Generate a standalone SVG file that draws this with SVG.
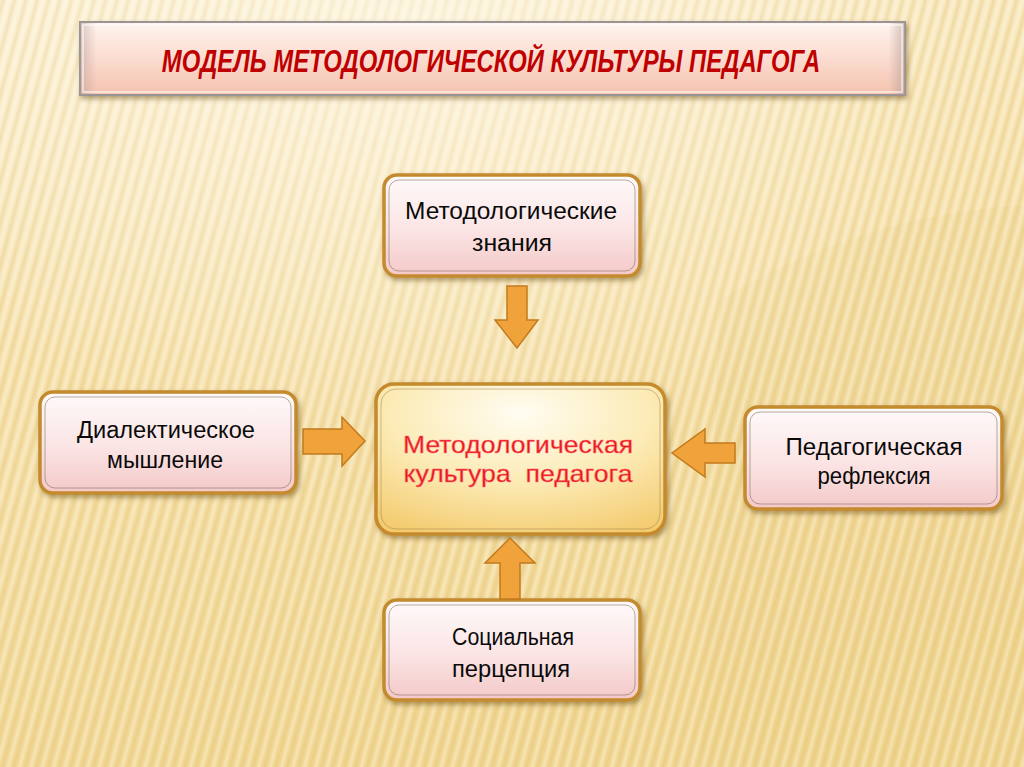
<svg xmlns="http://www.w3.org/2000/svg" width="1024" height="767" viewBox="0 0 1024 767">
  <defs>
    <linearGradient id="bg" x1="0" y1="0" x2="0.25" y2="1">
      <stop offset="0" stop-color="#fbf0d2"/>
      <stop offset="0.45" stop-color="#f7e4b2"/>
      <stop offset="1" stop-color="#f2d998"/>
    </linearGradient>
    <radialGradient id="glow" cx="0.4" cy="0.05" r="0.55">
      <stop offset="0" stop-color="#fffbf0" stop-opacity="0.6"/>
      <stop offset="1" stop-color="#fffbf0" stop-opacity="0"/>
    </radialGradient>
    <linearGradient id="stripeGrad" x1="0" y1="0" x2="1" y2="0">
      <stop offset="0" stop-color="#d9b35e" stop-opacity="0"/>
      <stop offset="0.5" stop-color="#d9b35e" stop-opacity="0.32"/>
      <stop offset="1" stop-color="#d9b35e" stop-opacity="0"/>
    </linearGradient>
    <pattern id="stripes" width="11" height="1200" patternUnits="userSpaceOnUse" patternTransform="rotate(15)">
      <rect x="0" y="0" width="6" height="1200" fill="url(#stripeGrad)"/>
      <rect x="7" y="0" width="3" height="1200" fill="#fffaf0" opacity="0.25"/>
    </pattern>
    <linearGradient id="title" x1="0" y1="0" x2="0" y2="1">
      <stop offset="0" stop-color="#fff4ef"/>
      <stop offset="0.5" stop-color="#fbdcd0"/>
      <stop offset="1" stop-color="#f5c2ae"/>
    </linearGradient>
    <linearGradient id="titleEdge" x1="0" y1="0" x2="1" y2="0">
      <stop offset="0" stop-color="#b09a94" stop-opacity="0.5"/>
      <stop offset="0.02" stop-color="#b09a94" stop-opacity="0"/>
      <stop offset="0.98" stop-color="#b09a94" stop-opacity="0"/>
      <stop offset="1" stop-color="#b09a94" stop-opacity="0.6"/>
    </linearGradient>
    <linearGradient id="pink" x1="0" y1="0" x2="0" y2="1">
      <stop offset="0" stop-color="#fffafa"/>
      <stop offset="0.55" stop-color="#fbe4e4"/>
      <stop offset="1" stop-color="#f4c8c8"/>
    </linearGradient>
    <radialGradient id="center" cx="0.5" cy="0.2" r="0.9">
      <stop offset="0" stop-color="#fffdf2"/>
      <stop offset="0.5" stop-color="#fcebb6"/>
      <stop offset="1" stop-color="#f3c96a"/>
    </radialGradient>
    <filter id="shadow" x="-10%" y="-10%" width="125%" height="130%">
      <feDropShadow dx="2" dy="3" stdDeviation="2.5" flood-color="#5a3a10" flood-opacity="0.45"/>
    </filter>
  </defs>
  <style>
    .node { fill: url(#pink); stroke: #c48a2e; stroke-width: 3.5; filter: url(#shadow); }
    .inner { fill: none; stroke: #7a6a5a; stroke-width: 1; opacity: 0.55; }
    .lbl { font-family: "Liberation Sans", Arial, sans-serif; font-size: 23px; fill: #0a0a0a; text-anchor: middle; }
    .ctr { font-family: "Liberation Sans", Arial, sans-serif; font-size: 24px; fill: #e8141c; stroke: #ff7070; stroke-width: 0.5; text-anchor: middle; }
    .arrow { fill: #f0a33a; stroke: #c27a1e; stroke-width: 1.5; stroke-linejoin: miter; }
  </style>

  <rect x="0" y="0" width="1024" height="767" fill="url(#bg)"/>
  <path d="M 720 300 Q 860 215 1024 205 L 1024 767 L 700 767 Z" fill="#e9cf85" opacity="0.18"/>
  <rect x="0" y="0" width="1024" height="767" fill="url(#stripes)"/>
  <rect x="0" y="0" width="1024" height="767" fill="url(#glow)"/>

  <g id="title-box">
    <rect x="80" y="22" width="825" height="73" fill="url(#title)" stroke="#9a9494" stroke-width="2" filter="url(#shadow)"/>
    <rect x="80" y="22" width="825" height="73" fill="url(#titleEdge)"/>
    <rect x="83" y="25" width="819" height="67" fill="none" stroke="#ffffff" stroke-width="1.5" opacity="0.7"/>
    <text transform="translate(491,72) scale(0.78,1)" x="0" y="0" font-family="'Liberation Sans', Arial, sans-serif" font-size="31" font-weight="bold" font-style="italic" fill="#c00000" text-anchor="middle" textLength="844" lengthAdjust="spacingAndGlyphs">МОДЕЛЬ МЕТОДОЛОГИЧЕСКОЙ КУЛЬТУРЫ ПЕДАГОГА</text>
  </g>

  <g id="node-knowledge">
    <rect class="node" x="384" y="175" width="256" height="101" rx="13"/>
    <rect class="inner" x="389" y="180" width="246" height="91" rx="10"/>
    <text class="lbl" x="511" y="219" textLength="212" lengthAdjust="spacingAndGlyphs">Методологические</text>
    <text class="lbl" x="512" y="251" textLength="80" lengthAdjust="spacingAndGlyphs">знания</text>
  </g>

  <g id="node-dialectic">
    <rect class="node" x="40" y="392" width="256" height="101" rx="13"/>
    <rect class="inner" x="45" y="397" width="246" height="91" rx="10"/>
    <text class="lbl" x="166" y="438" textLength="178" lengthAdjust="spacingAndGlyphs">Диалектическое</text>
    <text class="lbl" x="165" y="468" textLength="116" lengthAdjust="spacingAndGlyphs">мышление</text>
  </g>

  <g id="node-center">
    <rect x="376" y="384" width="289" height="150" rx="18" fill="url(#center)" stroke="#c48a2e" stroke-width="3.5" filter="url(#shadow)"/>
    <rect x="381" y="389" width="279" height="140" rx="15" fill="none" stroke="#a08050" stroke-width="1" opacity="0.5"/>
    <text class="ctr" x="518" y="453" textLength="230" lengthAdjust="spacingAndGlyphs">Методологическая</text>
    <text class="ctr" x="518" y="482" textLength="229" lengthAdjust="spacingAndGlyphs" xml:space="preserve">культура  педагога</text>
  </g>

  <g id="node-reflexion">
    <rect class="node" x="745" y="407" width="257" height="102" rx="13"/>
    <rect class="inner" x="750" y="412" width="247" height="92" rx="10"/>
    <text class="lbl" x="874" y="455" textLength="177" lengthAdjust="spacingAndGlyphs">Педагогическая</text>
    <text class="lbl" x="874" y="484" textLength="113" lengthAdjust="spacingAndGlyphs">рефлексия</text>
  </g>

  <g id="node-perception">
    <rect class="node" x="384" y="600" width="256" height="100" rx="13"/>
    <rect class="inner" x="389" y="605" width="246" height="90" rx="10"/>
    <text class="lbl" x="513" y="645" textLength="122" lengthAdjust="spacingAndGlyphs">Социальная</text>
    <text class="lbl" x="511" y="677" textLength="118" lengthAdjust="spacingAndGlyphs">перцепция</text>
  </g>

  <g id="connectors">
    <polygon class="arrow" points="507,286 527,286 527,320 538,320 517,348 495,320 507,320"/>
    <polygon class="arrow" points="303,429 342,429 342,417 365,441 342,466 342,454 303,454"/>
    <polygon class="arrow" points="735,443 705,443 705,429 672,453 705,477 705,463 735,463"/>
    <polygon class="arrow" points="500,599 520,599 520,563 535,563 510,538 485,563 500,563"/>
  </g>
</svg>
